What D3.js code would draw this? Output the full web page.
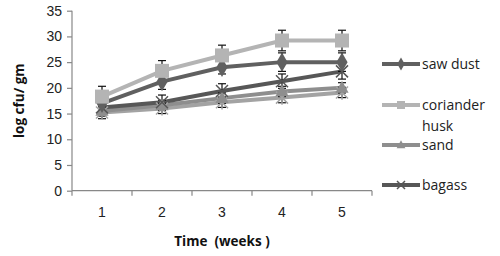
<!DOCTYPE html>
<html>
<head>
  <script src="https://d3js.org/d3.v7.min.js"></script>
  <style>
    body { margin: 0; background: #fff; font-family: "Open Sans", "Liberation Sans", sans-serif; }
    .tick text { font-size: 14px; fill: #222; }
    .axis path, .axis line { stroke: #888; stroke-width: 1.2; }
    .axis-label { font-size: 13.5px; font-weight: bold; fill: #111; text-anchor: middle; }
    .legend text { font-size: 14px; fill: #222; }
  </style>
</head>
<body>
  <div id="chart"></div>
  <script>
    const weeks = [1, 2, 3, 4, 5];
    const sawDust = [17, 21.2, 24, 25, 25];
    const corianderHusk = [18.3, 23.3, 26.3, 29.2, 29.2];
    const sand = [15.5, 16.6, 18, 19.3, 20];
    const bagass = [16.2, 17.2, 19.4, 21.3, 23.2];
    const other = [15.2, 16, 17.2, 18.1, 19.1];
    const sawDustErr = [1.5, 1.5, 1.3, 1.8, 1.8];
    const corianderErr = [2, 2, 2, 2, 2];
    const sandErr = [1, 1, 1, 1, 1];
    const bagassErr = [1.2, 1.4, 1.4, 1.4, 1.5];
    const otherErr = [1.2, 1, 1, 1, 1];
    const yTicks = [0, 5, 10, 15, 20, 25, 30, 35];

    const series = [
      {name: "other", values: other, err: otherErr, color: "#a3a3a3", marker: "star"},
      {name: "sand", values: sand, err: sandErr, color: "#8e8e8e", marker: "triangle"},
      {name: "bagass", values: bagass, err: bagassErr, color: "#575757", marker: "x"},
      {name: "saw dust", values: sawDust, err: sawDustErr, color: "#606060", marker: "diamond"},
      {name: "coriander husk", values: corianderHusk, err: corianderErr, color: "#b4b4b4", marker: "square"}
    ];
    const legendOrder = ["saw dust", "coriander husk", "sand", "bagass"];

    const W = 500, H = 256;
    const plot = {left: 72, right: 372, top: 10.7, bottom: 190.7};

    const svg = d3.select("#chart").append("svg")
      .attr("width", W).attr("height", H);

    const x = d3.scaleBand().domain(weeks).range([plot.left, plot.right]).padding(0);
    const y = d3.scaleLinear().domain([0, 35]).range([plot.bottom, plot.top]);
    const cx = d => x(d) + x.bandwidth() / 2;

    // axes
    svg.append("g").attr("class", "axis")
      .attr("transform", `translate(${plot.left},0)`)
      .call(d3.axisLeft(y).tickValues(yTicks).tickSize(5).tickPadding(5))
      .call(g => g.select(".domain").attr("d", `M0,${plot.bottom}V${plot.top}`));

    const xAxis = svg.append("g").attr("class", "axis")
      .attr("transform", `translate(0,${plot.bottom})`)
      .call(d3.axisBottom(x).tickSize(0).tickPadding(16))
      .call(g => g.select(".domain").attr("d", `M${plot.left},0H${plot.right}`));
    xAxis.selectAll(".sep").data(d3.range(weeks.length + 1)).enter().append("line")
      .attr("class", "sep")
      .attr("x1", i => plot.left + i * x.bandwidth()).attr("x2", i => plot.left + i * x.bandwidth())
      .attr("y1", 0).attr("y2", 5);

    svg.append("text").attr("class", "axis-label")
      .attr("transform", `translate(24,${(plot.top + plot.bottom) / 2}) rotate(-90)`)
      .text("log cfu/ gm");
    svg.append("text").attr("class", "axis-label")
      .attr("x", 222).attr("y", 246)
      .attr("xml:space", "preserve")
      .text("Time  (weeks )");

    function drawMarker(g, type, color, s) {
      if (type === "square") {
        g.append("rect").attr("x", -s / 2).attr("y", -s / 2).attr("width", s).attr("height", s).attr("fill", color);
      } else if (type === "diamond") {
        g.append("path").attr("d", d3.symbol(d3.symbolDiamond, s * s * 0.75)()).attr("fill", color);
      } else if (type === "triangle") {
        g.append("path").attr("d", `M0,${-s * 0.6}L${s * 0.55},${s * 0.4}L${-s * 0.55},${s * 0.4}Z`).attr("fill", color);
      } else if (type === "x") {
        const h = s / 2;
        g.append("path").attr("d", `M${-h},${-h}L${h},${h}M${-h},${h}L${h},${-h}`)
          .attr("stroke", color).attr("stroke-width", 1.5);
      } else if (type === "star") {
        const h = s / 2;
        g.append("path").attr("d", `M${-h},${-h}L${h},${h}M${-h},${h}L${h},${-h}M0,${-h * 1.2}V${h * 1.2}`)
          .attr("stroke", color).attr("stroke-width", 1.5);
      }
    }

    const line = d3.line().x((d, i) => cx(weeks[i])).y(d => y(d));

    series.forEach(s => {
      svg.append("path").datum(s.values)
        .attr("d", line).attr("fill", "none")
        .attr("stroke", s.color).attr("stroke-width", 4);
    });

    // error bars
    series.forEach(s => {
      s.values.forEach((v, i) => {
        const px = cx(weeks[i]);
        const g = svg.append("g").attr("stroke", "#111").attr("stroke-width", 1.2);
        g.append("line").attr("x1", px).attr("x2", px).attr("y1", y(v - s.err[i])).attr("y2", y(v + s.err[i]));
        [v - s.err[i], v + s.err[i]].forEach(e => {
          g.append("line").attr("x1", px - 4).attr("x2", px + 4).attr("y1", y(e)).attr("y2", y(e));
        });
      });
    });

    series.forEach(s => {
      s.values.forEach((v, i) => {
        const g = svg.append("g").attr("transform", `translate(${cx(weeks[i])},${y(v)})`);
        drawMarker(g, s.marker, s.color, s.marker === "square" ? 14 : 12);
      });
    });

    // legend
    const legendY = [64, 105, 145, 185];
    const legend = svg.append("g").attr("class", "legend");
    legendOrder.forEach((name, i) => {
      const s = series.find(d => d.name === name);
      const g = legend.append("g").attr("transform", `translate(0,${legendY[i]})`);
      g.append("line").attr("x1", 382).attr("x2", 420).attr("y1", 0).attr("y2", 0)
        .attr("stroke", s.color).attr("stroke-width", 4);
      const m = g.append("g").attr("transform", "translate(401,0)");
      drawMarker(m, s.marker, s.color, 8);
      const words = name === "coriander husk" ? ["coriander", "husk"] : [name];
      const t = g.append("text").attr("x", 422).attr("y", 5);
      words.forEach((w, j) => t.append("tspan").attr("x", 422).attr("dy", j ? 21 : 0).text(w));
    });
  </script>
</body>
</html>
